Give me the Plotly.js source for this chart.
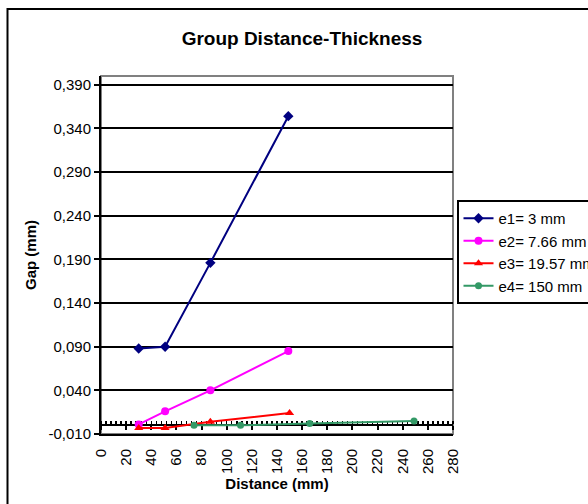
<!DOCTYPE html>
<html>
<head>
<meta charset="utf-8">
<script src="https://cdn.plot.ly/plotly-3.0.1.min.js"></script>
<style>
  html, body { margin: 0; padding: 0; background: #ffffff; }
  #chart { width: 588px; height: 504px; }
</style>
</head>
<body>
<div id="chart"></div>
<script>
// ---- data ----
const seriesNames = ['e1= 3 mm', 'e2= 7.66 mm', 'e3= 19.57 mm', 'e4= 150 mm'];
const distE1 = [30, 51, 87, 149];
const gapE1  = [0.088, 0.090, 0.186, 0.354];
const distE2 = [30, 51, 87, 149];
const gapE2  = [0.001, 0.016, 0.040, 0.085];
const distE3 = [30, 51, 87, 150];
const gapE3  = [-0.003, -0.003, 0.004, 0.014];
const distE4 = [74, 111, 166, 249];
const gapE4  = [0.000, 0.000, 0.002, 0.005];
const yTickVals = [-0.010, 0.040, 0.090, 0.140, 0.190, 0.240, 0.290, 0.340, 0.390];
const xTickVals = [0, 20, 40, 60, 80, 100, 120, 140, 160, 180, 200, 220, 240, 260, 280];

const yTickText = yTickVals.map(v => v.toFixed(3).replace('.', ','));
const xTickText = xTickVals.map(v => String(v));

const FONT = 'Liberation Sans, Arial, sans-serif';

function series(name, x, y, color, symbol, size) {
  return {
    type: 'scatter', mode: 'lines+markers', name: name,
    x: x, y: y, xaxis: 'x', yaxis: 'y',
    line: { color: color, width: 2 },
    marker: { color: color, symbol: symbol, size: size, line: { width: 0 } },
    cliponaxis: false
  };
}

const data = [
  series(seriesNames[0], distE1, gapE1, '#000080', 'diamond', 8),
  series(seriesNames[1], distE2, gapE2, '#FF00FF', 'circle', 8),
  series(seriesNames[2], distE3, gapE3, '#FF0000', 'triangle-up', 8),
  series(seriesNames[3], distE4, gapE4, '#339966', 'circle', 7),
  // empty helper trace so the zero-crossing axis (x2) gets its subplot
  { type: 'scatter', mode: 'markers', x: [], y: [], xaxis: 'x2', yaxis: 'y',
    showlegend: false, hoverinfo: 'skip' }
];

const yMin = -0.01, yMax = 0.40;
const ml = 101, mr = 135, mt = 76, mb = 70;
const pw = 588 - ml - mr, ph = 504 - mt - mb;

const layout = {
  width: 588, height: 504,
  paper_bgcolor: '#ffffff', plot_bgcolor: '#ffffff',
  margin: { l: ml, r: mr, t: mt, b: mb, autoexpand: false },
  font: { family: FONT, size: 15, color: '#000000' },
  title: {
    text: 'Group Distance-Thickness',
    font: { family: FONT, size: 19, weight: 'bold', color: '#000000' },
    xref: 'container', yref: 'container',
    x: 302 / 588, xanchor: 'center',
    y: 1 - 38.5 / 504, yanchor: 'middle'
  },
  showlegend: true,
  legend: {
    x: (456.5 - ml) / pw, xanchor: 'left',
    y: (504 - mb - 200) / ph, yanchor: 'top',
    bgcolor: '#ffffff', bordercolor: '#000000', borderwidth: 2,
    font: { family: FONT, size: 15, color: '#000000' },
    traceorder: 'normal', itemwidth: 30
  },
  xaxis: {
    range: [0, 280], autorange: false,
    tickmode: 'array', tickvals: xTickVals, ticktext: xTickText,
    tickangle: -90, ticks: '', ticklabelstandoff: 7,
    tickfont: { family: FONT, size: 15, color: '#000000' },
    showline: true, linecolor: '#000000', linewidth: 2,
    showgrid: false, zeroline: false,
    title: { text: 'Distance (mm)', standoff: 5,
             font: { family: FONT, size: 15, weight: 'bold', color: '#000000' } }
  },
  xaxis2: {
    overlaying: 'x', anchor: 'free',
    position: (0 - yMin) / (yMax - yMin),
    range: [0, 280], autorange: false,
    tick0: 0, dtick: 20, ticks: 'outside', ticklen: 4, tickwidth: 2, tickcolor: '#000000',
    minor: { dtick: 4, ticks: 'inside', ticklen: 3, tickwidth: 1.5, tickcolor: '#000000', showgrid: false },
    showticklabels: false, showline: true, linecolor: '#000000', linewidth: 2,
    showgrid: false, zeroline: false, layer: 'below traces'
  },
  yaxis: {
    range: [yMin, yMax], autorange: false,
    tickmode: 'array', tickvals: yTickVals, ticktext: yTickText,
    ticks: 'outside', ticklen: 5, tickwidth: 2, tickcolor: '#000000',
    tickfont: { family: FONT, size: 15, color: '#000000' },
    showline: true, linecolor: '#000000', linewidth: 2,
    showgrid: true, gridcolor: '#000000', gridwidth: 2,
    zeroline: false,
    title: { text: 'Gap (mm)', standoff: 8,
             font: { family: FONT, size: 15, weight: 'bold', color: '#000000' } }
  },
  shapes: [
    { type: 'rect', xref: 'paper', yref: 'paper', x0: 0, x1: 1, y0: 0, y1: 1,
      line: { color: '#808080', width: 2 }, layer: 'below' },
    { type: 'rect', xref: 'paper', yref: 'paper',
      x0: (7.5 - ml) / pw, x1: (640 - ml) / pw,
      y0: (504 - mb - 560) / ph, y1: (504 - mb - 9) / ph,
      line: { color: '#000000', width: 2 }, layer: 'below' }
  ]
};

Plotly.newPlot('chart', data, layout, { displayModeBar: false, staticPlot: true });
</script>
</body>
</html>
